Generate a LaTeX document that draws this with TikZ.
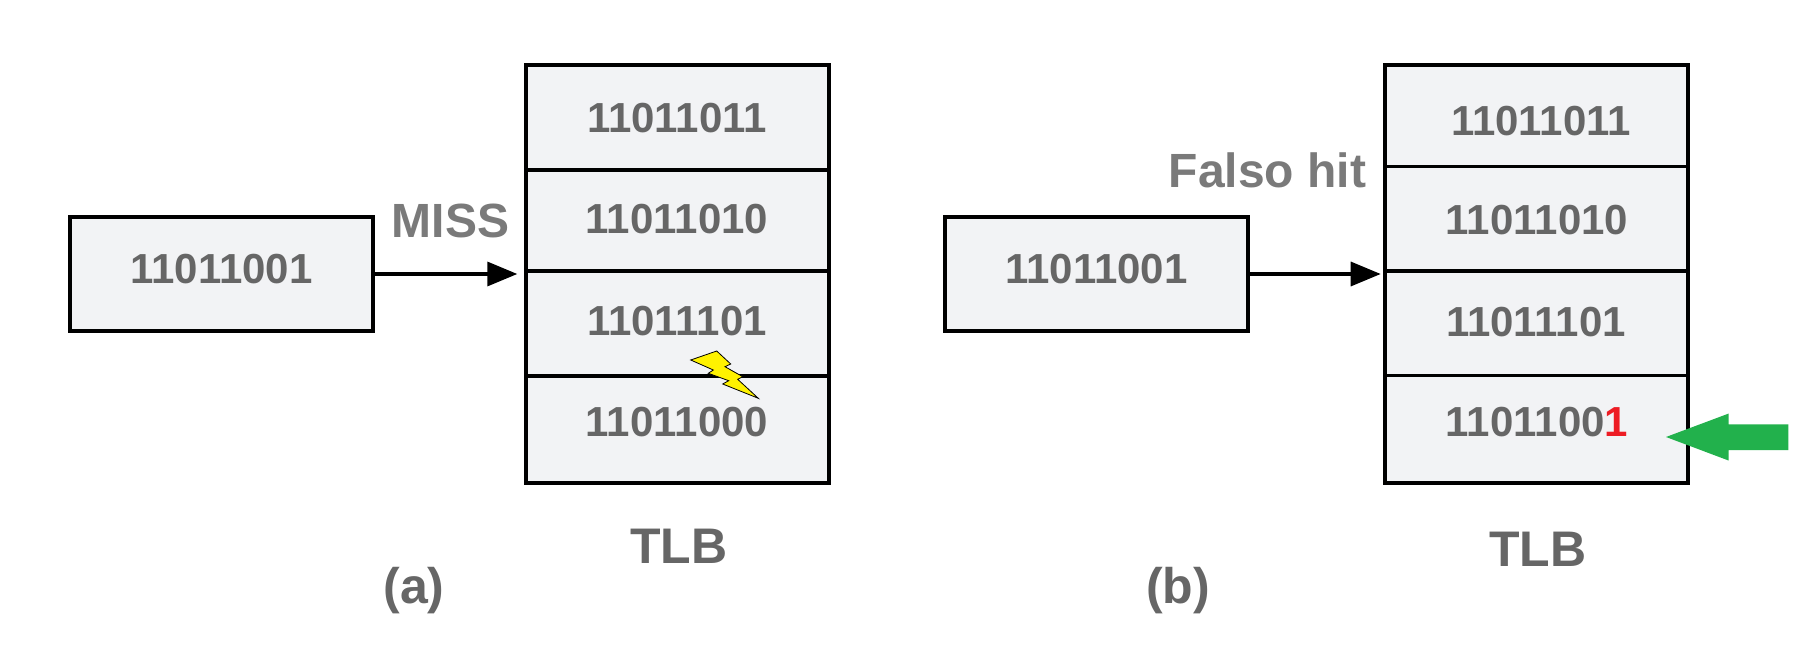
\documentclass[tikz,border=0pt]{standalone}
\usepackage{fontspec}
\setmainfont{Liberation Sans}
\usetikzlibrary{arrows.meta}
\definecolor{cellfill}{HTML}{F2F3F5}
\definecolor{txtgray}{HTML}{666666}
\definecolor{lblgray}{HTML}{7A7A7A}
\definecolor{hitred}{HTML}{ED1C24}
\definecolor{hitgreen}{HTML}{22B14C}
\definecolor{boltyellow}{HTML}{FFF200}
\tikzset{
  boxnode/.style={draw=black,fill=cellfill,line width=4pt,rectangle,inner sep=0pt},
  inbox/.style={boxnode,minimum width=303pt,minimum height=113.5pt},
  tlbbox/.style={boxnode,minimum width=303pt,minimum height=418pt},
  divider/.style={draw=black,line width=3.2pt},
  flow/.style={draw=black,line width=3.4pt,-{Triangle[length=30pt,width=24pt]}},
  bits/.style={anchor=base,inner sep=0pt,text=txtgray,font=\fontsize{42}{50}\selectfont\bfseries},
  big/.style={anchor=base,inner sep=0pt,text=txtgray,font=\fontsize{50}{58}\selectfont\bfseries},
  note/.style={big,text=lblgray,font=\fontsize{48}{56}\selectfont\bfseries},
  bolt/.style={draw=black,fill=boltyellow,line width=0.8pt,line join=miter},
  hitarrow/.style={fill=hitgreen,draw=none}
}
\begin{document}
\begin{tikzpicture}[x=1pt,y=-1pt]
\useasboundingbox[fill=white] (0,0) rectangle (1804,660);
% panel (a)
\node[inbox] (ina) at (221.5,274) {};
\node[tlbbox] (tlba) at (677.8,274) {};
\draw[divider] (tlba.west |- 0,170) coordinate (a1l) -- (tlba.east |- a1l);
\draw[divider] (tlba.west |- 0,271) coordinate (a2l) -- (tlba.east |- a2l);
\draw[divider] (tlba.west |- 0,376) coordinate (a3l) -- (tlba.east |- a3l);
\draw[flow,shorten >=7pt] (ina.east) -- (tlba.west);
\node[bits] (ta0) at (221.5,283.6) {11011001};
\node[bits] (ta1) at (677,133) {11011011};
\node[bits] (ta2) at (677,234) {11011010};
\node[bits] (ta3) at (677,335) {11011101};
\node[bits] (ta4) at (677,436) {11011000};
\node[note] (miss) at (450.5,238) {MISS};
\node[big] (tlbla) at (679,563.7) {TLB};
\node[big] (capa) at (414,603.5) {(a)};
\draw[bolt] (690.7,360) -- (716.7,351) -- (730.7,364) -- (725,366.7) -- (742.7,376.7) -- (737.7,379.3) -- (758.3,398.3) -- (722.7,384) -- (728.7,380.7) -- (708.3,373.3) -- (713.3,370) -- cycle;
% panel (b)
\node[inbox] (inb) at (1096.3,274) {};
\node[tlbbox] (tlbb) at (1536.6,274) {};
\draw[divider] (tlbb.west |- 0,166.3) coordinate (b1l) -- (tlbb.east |- b1l);
\draw[divider] (tlbb.west |- 0,271) coordinate (b2l) -- (tlbb.east |- b2l);
\draw[divider] (tlbb.west |- 0,375.3) coordinate (b3l) -- (tlbb.east |- b3l);
\draw[flow,shorten >=2.4pt] (inb.east) -- (tlbb.west);
\node[bits] (tb0) at (1096.5,283.6) {11011001};
\node[bits] (tb1) at (1541,135.6) {11011011};
\node[bits] (tb2) at (1537,234.5) {11011010};
\node[bits] (tb3) at (1536,336) {11011101};
\node[bits] (tb4) at (1537,436) {1101100\textcolor{hitred}{1}};
\node[note] (falso) at (1267.5,187.6) {Falso hit};
\node[big] (tlblb) at (1538,566) {TLB};
\node[big] (capb) at (1178,603.5) {(b)};
\fill[hitarrow] (1666,437) -- (1728.5,413.6) -- (1728.5,424.3) -- (1788.4,424.3) -- (1788.4,450) -- (1728.5,450) -- (1728.5,460.5) -- cycle;
\end{tikzpicture}
\end{document}
